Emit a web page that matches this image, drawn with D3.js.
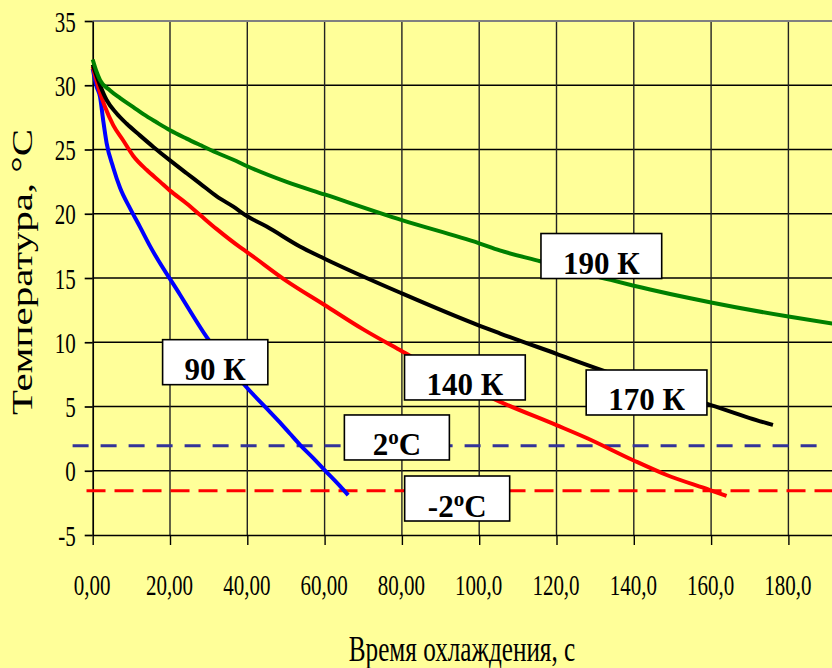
<!DOCTYPE html>
<html><head><meta charset="utf-8">
<script src="https://cdn.jsdelivr.net/npm/d3@7"></script>
<style>html,body{margin:0;padding:0;background:#ffff99;overflow:hidden}</style>
</head><body>
<svg id="chart" width="832" height="668"></svg>
<script>
// ---- data ----
const xTicks = [0, 20, 40, 60, 80, 100, 120, 140, 160, 180];
const xTickLabels = ["0,00","20,00","40,00","60,00","80,00","100,0","120,0","140,0","160,0","180,0"];
const yTicks = [-5, 0, 5, 10, 15, 20, 25, 30, 35];

const series90 = [[0,31.3],[1,29.9],[1.9,29.1],[2.7,27.3],[3.6,25.5],[5.3,23.6],[7.1,22.0],[9.7,20.4],[12.2,19.0],[14.8,17.5],[22.6,13.7],[29.5,10.4],[39.8,6.5],[45,4.85],[48,3.9],[51,2.9],[53.7,2.0],[57,1.0],[60,0.05],[64,-1.2],[66.1,-1.9]];
const series140 = [[0,31.45],[1.9,29.4],[3.2,28.3],[5.3,26.9],[7.9,25.7],[10.5,24.5],[14,23.4],[17.4,22.5],[20,21.8],[24.3,20.8],[27.8,19.9],[32.1,18.8],[38.1,17.4],[40,17.0],[50,14.8],[60,12.9],[70,11.0],[80,9.3],[92,7.3],[105.3,5.38],[120,3.55],[127.8,2.55],[139.7,0.84],[148.5,-0.33],[159.7,-1.5],[164,-1.96]];
const series170 = [[0,31.6],[1.9,30.0],[3.6,28.85],[6.2,27.8],[8.8,27.0],[12.2,26.1],[15.7,25.2],[20,24.15],[24.3,23.15],[27.8,22.35],[32.1,21.35],[36.4,20.55],[40,19.8],[45,19.0],[53.6,17.45],[60,16.5],[80,13.8],[100,11.3],[105.3,10.7],[120,9.1],[130.4,7.97],[145,6.5],[159,5.2],[170,4.1],[176,3.56]];
const series190 = [[0,32.0],[1,31.05],[1.9,30.4],[4.5,29.6],[7.1,29.0],[10.5,28.3],[13.1,27.75],[16.6,27.1],[20,26.5],[24.3,25.85],[27.8,25.35],[32.1,24.75],[36.4,24.2],[40,23.7],[50,22.5],[60,21.5],[80,19.5],[100,17.7],[105.3,17.15],[115.8,16.3],[134,14.85],[140,14.4],[160,13.1],[180,12.0],[191.5,11.45]];

const seriesNames = ["90 К", "140 К", "170 К", "190 К"];
const seriesColors = ["#0000ff", "#ff0000", "#000000", "#008000"];

const refLevels = [1.95, -1.55];            // °C
const refStarts = [-5.2, -1.6];             // s
const refEnds = [187.3, 200];               // s
const refColors = ["#333399", "#ff0000"];

const annoTexts = ["90 К", "140 К", "170 К", "190 К", "2°C", "-2°C"];
const annoT = [31.7, 96.3, 143.3, 131.6, 78.7, 94.3];
const annoTemp = [8.45, 7.26, 6.09, 16.71, 2.59, -2.16];

const xTitle = "Время охлаждения, с";
const yTitle = "Температура, °С";

// ---- drawing ----
const svg = d3.select("#chart");
const FONT = "'Liberation Serif','Times New Roman',serif";
const SX = 0.7;

svg.append("rect").attr("width", 832).attr("height", 668).attr("fill", "#ffff99");

const x = d3.scaleLinear().domain([0, 200]).range([92.7, 865.7]);
const y = d3.scaleLinear().domain([-5, 35]).range([535, 21]);

// gridlines
svg.append("g").selectAll("line").data(yTicks.filter(d => d > -5 && d < 35)).join("line")
  .attr("x1", x(0)).attr("x2", x(200)).attr("y1", d => y(d)).attr("y2", d => y(d))
  .attr("stroke", "#000").attr("stroke-width", 1.7);
svg.append("g").selectAll("line").data(xTicks.filter(d => d > 0)).join("line")
  .attr("x1", d => x(d)).attr("x2", d => x(d)).attr("y1", y(35)).attr("y2", y(-5))
  .attr("stroke", "#222").attr("stroke-width", 1.4);
svg.append("line").attr("x1", x(0)).attr("x2", x(200)).attr("y1", y(35)).attr("y2", y(35))
  .attr("stroke", "#808080").attr("stroke-width", 2);

// axes
const gx = svg.append("g").attr("transform", `translate(0,${y(-5)})`)
  .call(d3.axisBottom(x).tickValues(xTicks).tickSize(10).tickSizeOuter(0)
    .tickFormat((d, i) => xTickLabels[i]));
gx.select(".domain").attr("stroke", "#000").attr("stroke-width", 1.7);
gx.selectAll(".tick line").attr("stroke", "#000").attr("stroke-width", 1.4);
gx.selectAll(".tick text").attr("y", null).attr("dy", null)
  .attr("transform", `translate(-1,60) scale(${SX},1)`)
  .attr("font-family", FONT).attr("font-size", 30).attr("fill", "#000");

const gy = svg.append("g").attr("transform", `translate(${x(0)},0)`)
  .call(d3.axisLeft(y).tickValues(yTicks).tickSize(8).tickSizeOuter(0).tickFormat(d => String(d)));
gy.select(".domain").attr("stroke", "#000").attr("stroke-width", 1.7);
gy.selectAll(".tick line").attr("stroke", "#000").attr("stroke-width", 1.7);
gy.selectAll(".tick text").attr("x", null).attr("dy", null)
  .attr("transform", `translate(-17,10) scale(${SX},1)`)
  .attr("text-anchor", "end")
  .attr("font-family", FONT).attr("font-size", 30).attr("fill", "#000");

// titles
svg.append("text").attr("transform", `translate(462,661) scale(0.72,1)`)
  .attr("text-anchor", "middle").attr("font-family", FONT).attr("font-size", 35)
  .attr("fill", "#000").text(xTitle);
svg.append("text").attr("transform", `translate(32,272) scale(0.7,1) rotate(-90)`)
  .attr("text-anchor", "middle").attr("font-family", FONT).attr("font-size", 41)
  .attr("fill", "#000").text(yTitle);

// reference dashed lines
refLevels.forEach((lv, i) => {
  svg.append("line")
    .attr("x1", x(refStarts[i])).attr("x2", x(refEnds[i]))
    .attr("y1", y(lv)).attr("y2", y(lv))
    .attr("stroke", refColors[i]).attr("stroke-width", 3)
    .attr("stroke-dasharray", i === 0 ? "16,12" : "19,9");
});

// curves
const line = d3.line().x(d => x(d[0])).y(d => y(d[1])).curve(d3.curveMonotoneX);
[series90, series140, series170, series190].forEach((s, i) => {
  svg.append("path").datum(s).attr("d", line)
    .attr("fill", "none").attr("stroke", seriesColors[i])
    .attr("stroke-width", 4).attr("stroke-linejoin", "round")
    .attr("aria-label", seriesNames[i]);
});

// annotation boxes
annoTexts.forEach((txt, i) => {
  const g = svg.append("g").attr("transform", `translate(${x(annoT[i])},${y(annoTemp[i])})`);
  const rect = g.append("rect").attr("fill", "#fff").attr("stroke", "#000").attr("stroke-width", 1.6);
  const t = g.append("text").attr("text-anchor", "middle").attr("y", 18)
    .attr("font-family", FONT).attr("font-weight", "bold").attr("font-size", 31).attr("fill", "#000");
  if (txt.includes("°")) {
    const parts = txt.split("°");
    t.append("tspan").text(parts[0]);
    t.append("tspan").attr("font-size", 21).attr("dy", -11).text("o");
    t.append("tspan").attr("dy", 11).text(parts[1]);
  } else {
    t.text(txt);
  }
  const w = Math.max(t.node().getComputedTextLength() + 44, 105);
  rect.attr("x", -w / 2).attr("y", -22.5).attr("width", w).attr("height", 45);
});
</script>
</body></html>
